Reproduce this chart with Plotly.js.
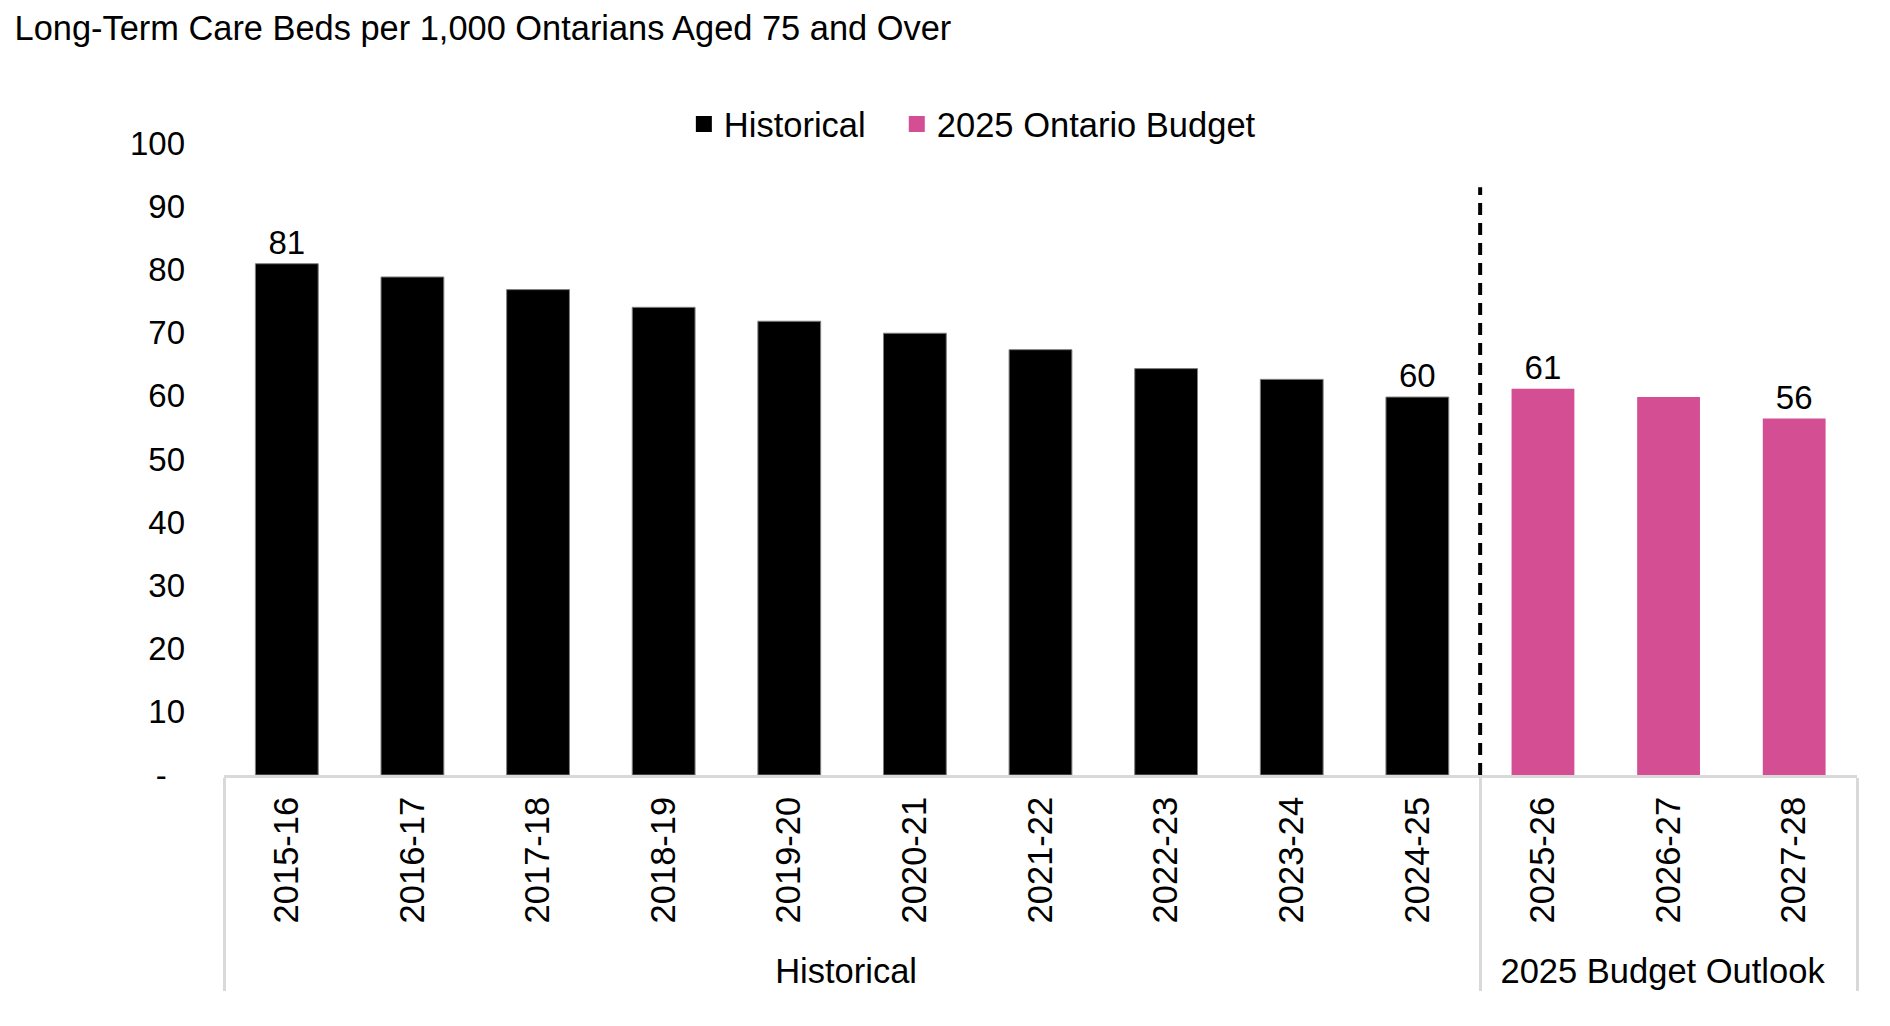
<!DOCTYPE html>
<html>
<head>
<meta charset="utf-8">
<script src="https://cdn.plot.ly/plotly-3.0.1.min.js"></script>
<style>html,body{margin:0;padding:0;background:#fff;}#chart{width:1890px;height:1026px;}</style>
</head>
<body>
<div id="chart"></div>
<script>
// ---- data ----
const chartTitle = "Long-Term Care Beds per 1,000 Ontarians Aged 75 and Over";
const histYears = ["2015-16","2016-17","2017-18","2018-19","2019-20","2020-21","2021-22","2022-23","2023-24","2024-25"];
const histValues = [80.9, 78.8, 76.8, 74.0, 71.8, 69.9, 67.3, 64.3, 62.6, 59.8];
const histLabels = ["81","","","","","","","","","60"];
const budgetYears = ["2025-26","2026-27","2027-28"];
const budgetValues = [61.1, 59.8, 56.4];
const budgetLabels = ["61","","56"];
const groupNames = ["Historical", "2025 Budget Outlook"];
const seriesNames = ["Historical", "2025 Ontario Budget"];
const yTickVals = [0,10,20,30,40,50,60,70,80,90,100];
const yTickText = ["-\u00a0\u00a0","10","20","30","40","50","60","70","80","90","100"];

const FONT = "Arial, 'Liberation Sans', sans-serif";
const BLACK = "#000000";
const PINK = "#d44e94";
const GREY = "#d9d9d9";

const nCats = histYears.length + budgetYears.length;

// plot area (px)
const M = {l: 223.5, r: 33, t: 143, b: 251};
const W = 1890, H = 1026;
const plotW = W - M.l - M.r, plotH = H - M.t - M.b;
const px2paperX = (px) => (px - M.l) / plotW;
const px2paperY = (py) => (H - M.b - py) / plotH;

const traces = [
  {
    type: "bar",
    name: seriesNames[0],
    legendgroup: "h",
    showlegend: false,
    x: [histYears.map(() => groupNames[0]), histYears],
    y: histValues,
    text: histLabels,
    textposition: "outside",
    textfont: {family: FONT, size: 33, color: "#000"},
    cliponaxis: false,
    marker: {color: BLACK, line: {color: "#7f7f7f", width: 1}},
    hoverinfo: "skip"
  },
  {
    type: "bar",
    name: seriesNames[1],
    legendgroup: "b",
    showlegend: false,
    x: [budgetYears.map(() => groupNames[1]), budgetYears],
    y: budgetValues,
    text: budgetLabels,
    textposition: "outside",
    textfont: {family: FONT, size: 33, color: "#000"},
    cliponaxis: false,
    marker: {color: PINK},
    hoverinfo: "skip"
  },
  // legend keys (square symbols)
  {
    type: "scatter", mode: "markers", name: seriesNames[0], legendgroup: "h", legend: "legend",
    x: [[groupNames[0]], [histYears[0]]], y: [null],
    marker: {symbol: "square", size: 16, color: BLACK}, hoverinfo: "skip"
  },
  {
    type: "scatter", mode: "markers", name: seriesNames[1], legendgroup: "b", legend: "legend2",
    x: [[groupNames[1]], [budgetYears[0]]], y: [null],
    marker: {symbol: "square", size: 16, color: PINK}, hoverinfo: "skip"
  }
];

const splitFrac = histYears.length / nCats;

const legendCommon = {
  orientation: "h",
  xanchor: "left",
  yref: "paper", y: px2paperY(124), yanchor: "middle",
  font: {family: FONT, size: 34.5, color: "#000"},
  bgcolor: "rgba(0,0,0,0)",
  itemclick: false, itemdoubleclick: false
};

const layout = {
  width: W,
  height: H,
  paper_bgcolor: "#fff",
  plot_bgcolor: "#fff",
  font: {family: FONT, size: 33, color: "#000"},
  margin: {l: M.l, r: M.r, t: M.t, b: M.b, autoexpand: false},
  title: {
    text: chartTitle,
    font: {family: FONT, size: 34.4, color: "#000"},
    xref: "container", x: 14.5 / W, xanchor: "left",
    yref: "container", y: 1 - 27.5 / H, yanchor: "middle"
  },
  barmode: "relative",
  bargap: 0.5,
  showlegend: true,
  legend: Object.assign({}, legendCommon, {xref: "paper", x: px2paperX(683.5)}),
  legend2: Object.assign({}, legendCommon, {xref: "paper", x: px2paperX(896.5)}),
  xaxis: {
    type: "multicategory",
    range: [-0.5, nCats - 0.5],
    autorange: false,
    tickangle: -90,
    showline: true, linecolor: GREY, linewidth: 3,
    showdividers: true, dividercolor: GREY, dividerwidth: 3,
    showgrid: false, zeroline: false, ticks: "",
    ticklabelstandoff: 5,
    tickfont: {family: FONT, size: 34.5, color: "#000"}
  },
  yaxis: {
    range: [0, 100],
    tickvals: yTickVals,
    ticktext: yTickText,
    showgrid: false, zeroline: false, showline: false, ticks: "",
    ticklabelstandoff: 38,
    tickfont: {family: FONT, size: 33, color: "#000"}
  },
  shapes: [
    {
      type: "line", xref: "paper", yref: "y",
      x0: splitFrac, x1: splitFrac, y0: 0, y1: 93,
      line: {color: "#000", width: 4, dash: "12px,8px"}
    }
  ]
};

Plotly.newPlot("chart", traces, layout, {displayModeBar: false, staticPlot: true});
</script>
</body>
</html>
